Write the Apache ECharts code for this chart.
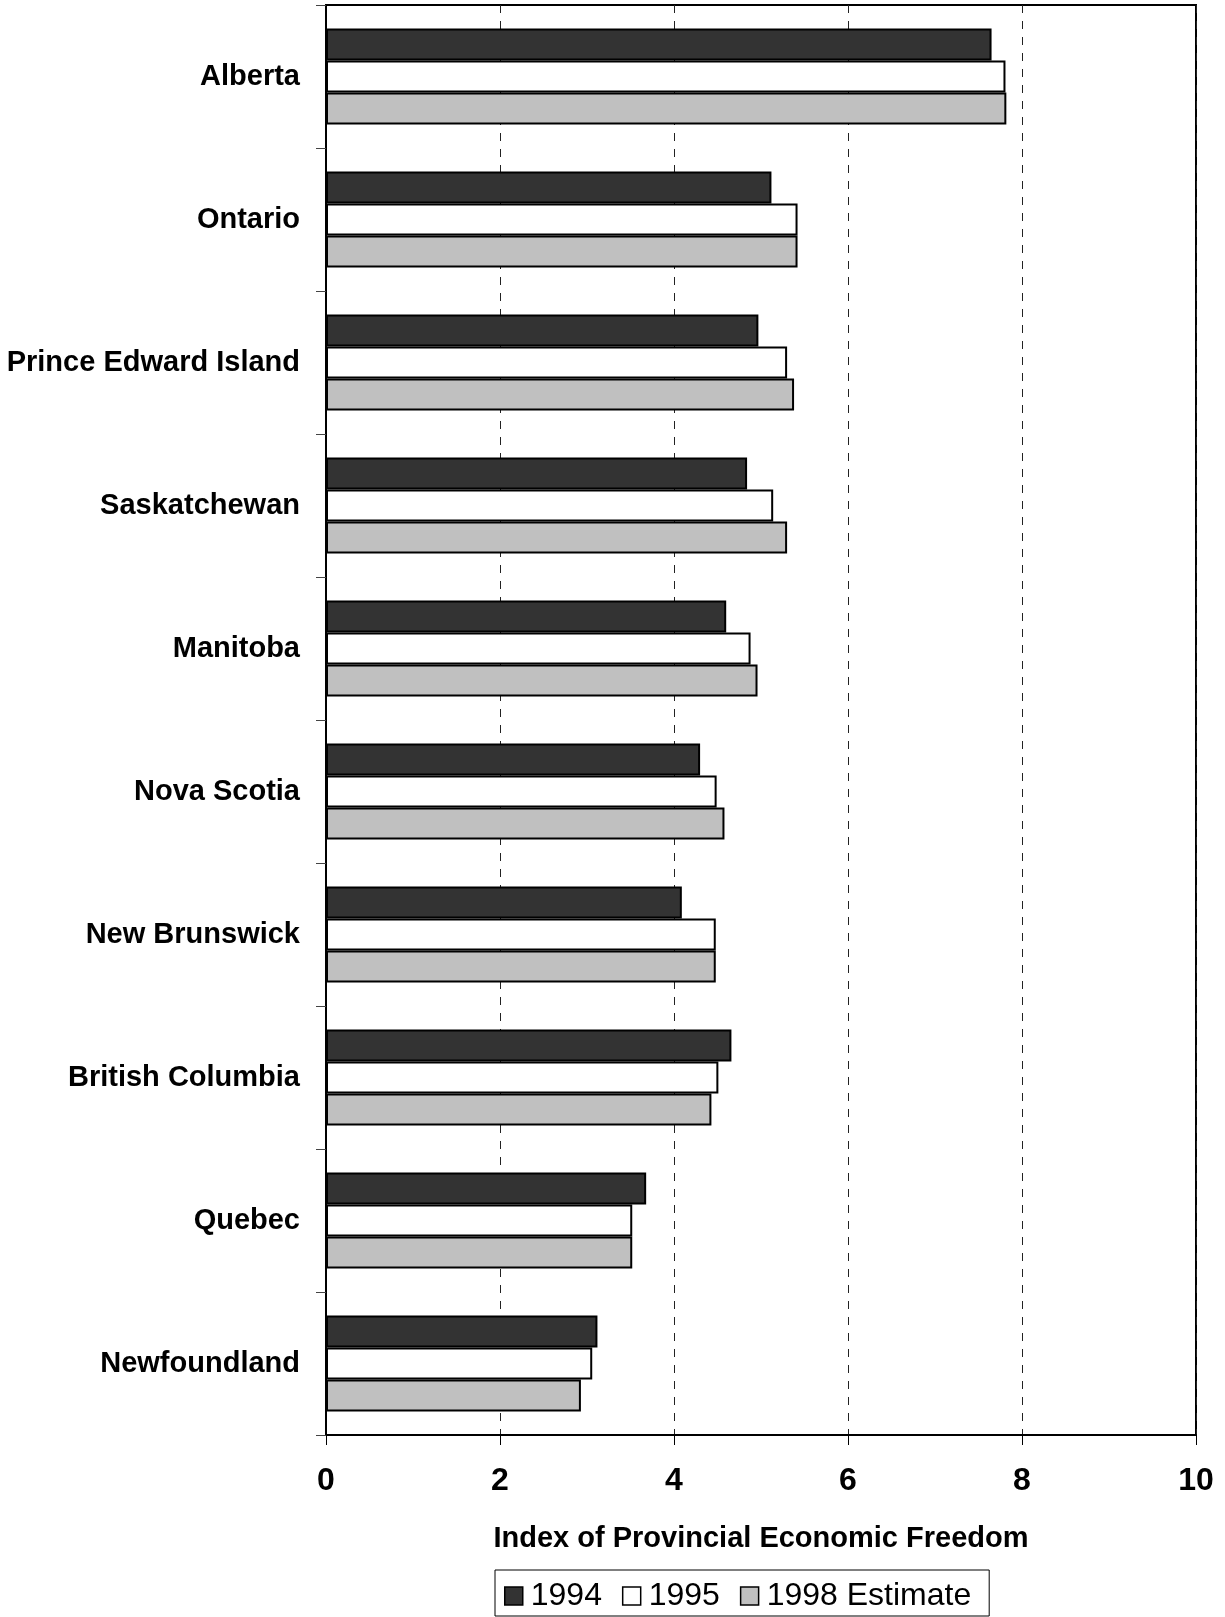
<!DOCTYPE html>
<html>
<head>
<meta charset="utf-8">
<title>Index of Provincial Economic Freedom</title>
<script src="https://cdn.jsdelivr.net/npm/echarts@6/dist/echarts.min.js"></script>
<style>
  html, body { margin: 0; padding: 0; background: #fff; }
  #chart { width: 1225px; height: 1617px; }
</style>
</head>
<body>
<div id="chart"></div>
<script>
// Provinces, top to bottom
const provinces = [
  'Alberta', 'Ontario', 'Prince Edward Island', 'Saskatchewan', 'Manitoba',
  'Nova Scotia', 'New Brunswick', 'British Columbia', 'Quebec', 'Newfoundland'
];

// Index values per year
const values1994 = [7.65, 5.12, 4.97, 4.84, 4.60, 4.30, 4.09, 4.66, 3.68, 3.12];
const values1995 = [7.81, 5.42, 5.30, 5.14, 4.88, 4.49, 4.48, 4.51, 3.52, 3.06];
const values1998 = [7.82, 5.42, 5.38, 5.30, 4.96, 4.58, 4.48, 4.43, 3.52, 2.93];

const seriesNames = ['1994', '1995', '1998 Estimate'];
const seriesColors = ['#333333', '#ffffff', '#c0c0c0'];

// Value axis ticks
const xTicks = [0, 2, 4, 6, 8, 10];

const FONT = '"Liberation Sans", Arial, Helvetica, sans-serif';

const chart = echarts.init(document.getElementById('chart'), null, { renderer: 'canvas' });

const dataSets = [values1994, values1995, values1998];

chart.setOption({
  animation: false,
  backgroundColor: '#ffffff',
  grid: {
    left: 326, right: 29, top: 5, bottom: 182,
    show: true, borderColor: '#000', borderWidth: 2,
    backgroundColor: 'transparent'
  },
  legend: {
    data: seriesNames,
    left: 495, top: 1570,
    orient: 'horizontal',
    icon: 'rect',
    itemWidth: 18, itemHeight: 18, itemGap: 20,
    borderColor: '#000', borderWidth: 1,
    padding: [10, 18, 4, 9],
    itemStyle: { borderColor: '#000', borderWidth: 1.5 },
    textStyle: { fontFamily: FONT, fontSize: 32, color: '#000', padding: [0, 0, 0, 3] }
  },
  xAxis: {
    type: 'value',
    min: xTicks[0], max: xTicks[xTicks.length - 1], interval: 2,
    position: 'bottom',
    name: 'Index of Provincial Economic Freedom',
    nameLocation: 'middle',
    nameGap: 89,
    nameTextStyle: { fontFamily: FONT, fontSize: 29, fontWeight: 'bold', color: '#000' },
    axisLine: { show: true, lineStyle: { color: '#000', width: 2 } },
    axisTick: { show: true, length: 10, lineStyle: { color: '#000', width: 1 } },
    axisLabel: { fontFamily: FONT, fontSize: 32, fontWeight: 'bold', color: '#000', margin: 30 },
    splitLine: { show: true, lineStyle: { color: '#222', width: 1, type: [8, 8] } }
  },
  yAxis: {
    type: 'category',
    data: provinces,
    inverse: true,
    axisLine: { show: true, lineStyle: { color: '#000', width: 2 } },
    axisTick: { show: true, length: 10, lineStyle: { color: '#444', width: 1 } },
    axisLabel: {
      fontFamily: FONT, fontSize: 29, fontWeight: 'bold', color: '#000',
      margin: 26, padding: [8, 0, 0, 0]
    },
    splitLine: { show: false }
  },
  series: seriesNames.map((name, i) => ({
    name: name,
    type: 'bar',
    data: dataSets[i],
    barGap: '0%',
    barCategoryGap: '33%',
    itemStyle: { color: seriesColors[i], borderColor: '#000', borderWidth: 2 }
  }))
});
</script>
</body>
</html>
